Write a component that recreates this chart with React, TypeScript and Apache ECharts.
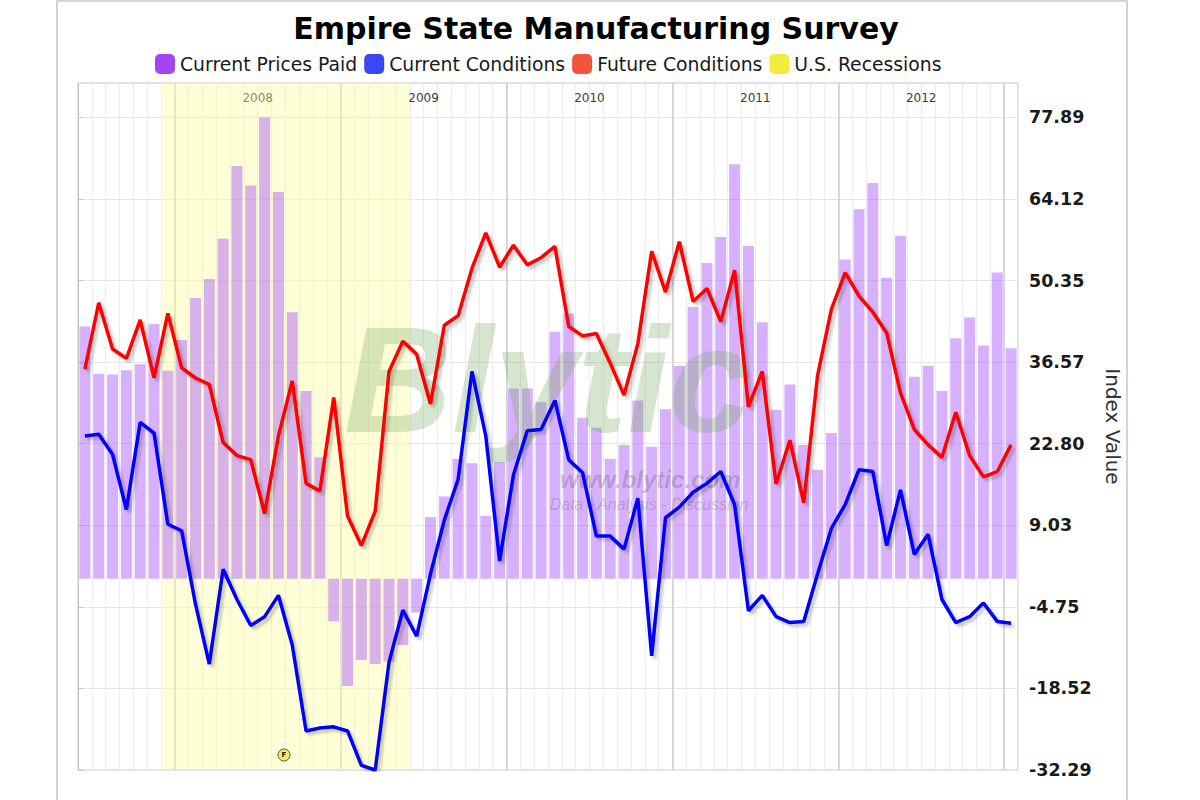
import React, { useEffect, useRef } from "react";
import * as echarts from "echarts";

// ---------- data ----------
const firstMonth = { year: 2007, month: 6 };
const lastMonth = { year: 2013, month: 1 };
const months: string[] = [];
for (let y = firstMonth.year, m = firstMonth.month; y < lastMonth.year || (y === lastMonth.year && m <= lastMonth.month); ) {
  months.push(`${y}-${String(m).padStart(2, "0")}`);
  m++;
  if (m > 12) { m = 1; y++; }
}

const pricesPaid = [
  42.6, 34.6, 34.5, 35.2, 36.2, 43.0, 35.1, 40.3, 47.4, 50.6,
  57.4, 69.7, 66.4, 77.89, 65.3, 45.0, 31.7, 20.5, -7.2, -18.1,
  -13.7, -14.4, -14.0, -11.2, -5.7, 10.4, 13.9, 20.2, 19.5, 10.6,
  19.7, 32.1, 32.1, 29.8, 41.7, 44.8, 27.2, 25.5, 20.2, 22.6,
  30.1, 22.3, 28.6, 35.9, 45.9, 53.3, 57.7, 70.0, 56.2, 43.3,
  28.5, 32.8, 22.6, 18.4, 24.6, 53.9, 62.4, 66.8, 50.8, 57.9,
  34.1, 35.9, 31.7, 40.6, 44.1, 39.4, 51.7, 38.9,
];

const currentConditions = [
  24.1, 24.4, 21.0, 11.7, 26.4, 24.6, 9.2, 8.1, -4.3, -14.4,
  1.6, -3.5, -7.9, -6.4, -2.8, -11.2, -25.7, -25.2, -25.0, -25.7,
  -31.5, -32.29, -14.1, -5.3, -9.7, 0.8, 9.9, 16.8, 35.0, 24.1,
  3.0, 17.5, 25.0, 25.2, 30.1, 20.1, 17.9, 7.2, 7.2, 5.0,
  13.6, -13.0, 10.3, 12.1, 14.6, 16.1, 18.1, 12.5, -5.4, -2.8,
  -6.4, -7.4, -7.2, 0.8, 8.5, 12.5, 18.4, 18.1, 5.6, 15.0,
  4.1, 7.5, -3.5, -7.4, -6.4, -4.1, -7.2, -7.5,
];

const futureConditions = [
  35.4, 46.6, 38.8, 37.2, 43.7, 33.9, 44.8, 35.6, 33.9, 32.8,
  23.0, 20.8, 20.1, 11.0, 24.1, 33.4, 16.1, 14.8, 30.6, 10.6,
  5.6, 11.4, 35.0, 40.1, 37.9, 29.5, 42.8, 44.4, 52.4, 58.4,
  52.6, 56.3, 53.0, 54.2, 56.1, 42.6, 41.0, 41.4, 36.4, 31.0,
  39.7, 55.3, 48.4, 56.9, 46.8, 49.0, 43.4, 52.1, 29.0, 35.0,
  16.0, 23.4, 12.8, 34.3, 45.5, 51.7, 47.7, 45.0, 41.5, 31.4,
  25.2, 22.6, 20.5, 28.1, 20.8, 17.2, 18.1, 22.6,
];

const yTickValues = [-32.29, -18.52, -4.75, 9.03, 22.8, 36.57, 50.35, 64.12, 77.89];
const yMin = -32.29;
const yMax = 83.7;

const yearLabels = ["2008", "2009", "2010", "2011", "2012"];
const yearBoundaryYears = ["2008", "2009", "2010", "2011", "2012", "2013"];
const recessionStart = "2007-12";
const recessionEnd = "2009-05";

const seriesNames = ["Current Prices Paid", "Current Conditions", "Future Conditions", "U.S. Recessions"];
const legendColors = ["#a444f2", "#3a48f2", "#f2553a", "#f4ec3c"];

// ---------- derived ----------
const yearLabelPos = yearLabels.map((y) => months.indexOf(`${y}-01`) + 6);
const yearBoundaryPos = yearBoundaryYears.map((y) => months.indexOf(`${y}-01`));
const recStartIdx = months.indexOf(recessionStart);
const recEndIdx = months.indexOf(recessionEnd) + 1;

const FONT = "DejaVu Sans";

const lineShadow = {
  shadowColor: "rgba(0,0,0,0.22)",
  shadowBlur: 3,
  shadowOffsetX: 3,
  shadowOffsetY: 3,
};

export default function App() {
  const ref = useRef<HTMLDivElement>(null);

  useEffect(() => {
    document.body.style.margin = "0";
    const chart = echarts.init(ref.current!, undefined, { renderer: "svg" });
    const option: any = {
      animation: false,
      backgroundColor: "#ffffff",
      textStyle: { fontFamily: FONT },
      title: {
        text: "Empire State Manufacturing Survey",
        left: 591,
        top: 8,
        textAlign: "center",
        textStyle: { fontFamily: FONT, fontSize: 30, fontWeight: "bold", color: "#000" },
      },
      legend: {
        left: 150,
        top: 49,
        icon: "roundRect",
        itemWidth: 20,
        itemHeight: 20,
        itemGap: 7,
        textStyle: { fontFamily: FONT, fontSize: 18.8, color: "#1a1a1a" },
        data: seriesNames.map((n, i) => ({ name: n, itemStyle: { color: legendColors[i] } })),
      },
      grid: {
        left: 78,
        right: 182,
        top: 83,
        bottom: 30,
        show: true,
        borderColor: "#c4c4c4",
        borderWidth: 1,
        containLabel: false,
      },
      xAxis: [
        {
          type: "category",
          data: months,
          boundaryGap: true,
          axisLine: { show: false },
          axisTick: { show: false, interval: 0 },
          axisLabel: { show: false, interval: 0 },
          splitLine: { show: true, interval: 0, lineStyle: { color: "#ececec", width: 1 } },
        },
        {
          type: "value",
          position: "top",
          min: 0,
          max: months.length,
          axisLine: { show: false },
          axisTick: { show: false, customValues: yearBoundaryPos },
          axisLabel: {
            show: true,
            inside: true,
            margin: 9,
            customValues: yearLabelPos,
            formatter: (v: number) => {
              const i = yearLabelPos.indexOf(Math.round(v));
              return i >= 0 ? yearLabels[i] : "";
            },
            fontFamily: FONT,
            fontSize: 12,
            color: "#3d3d30",
          },
          splitLine: { show: true, lineStyle: { color: "#cdcdcd", width: 1.5 } },
        },
      ],
      yAxis: {
        type: "value",
        position: "right",
        min: yMin,
        max: yMax,
        axisLine: { show: true, lineStyle: { color: "#c4c4c4" } },
        axisTick: { show: true, length: 5, customValues: yTickValues, lineStyle: { color: "#c4c4c4" } },
        axisLabel: {
          customValues: yTickValues,
          formatter: (v: number) => v.toFixed(2),
          margin: 11,
          fontFamily: FONT,
          fontSize: 17.5,
          fontWeight: "bold",
          color: "#1a1a1a",
        },
        splitLine: { show: true, lineStyle: { color: "#e6e6e6" } },
        name: "Index Value",
        nameLocation: "middle",
        nameRotate: -90,
        nameGap: 80,
        nameTextStyle: { fontFamily: FONT, fontSize: 20, color: "#333" },
      },
      graphic: [
        {
          type: "rect",
          z: 0,
          silent: true,
          shape: { x: 57, y: 1, width: 1070, height: 820 },
          style: { fill: "none", stroke: "#d4d4d4", lineWidth: 2 },
        },
        {
          type: "text",
          z: 5,
          silent: true,
          x: 548,
          y: 380,
          style: {
            text: "Blytic",
            font: "italic bold 150px 'Liberation Sans'",
            lineHeight: 110,
            fill: "rgba(120,170,95,0.30)",
            align: "center",
            verticalAlign: "middle",
          },
        },
        {
          type: "text",
          z: 5,
          silent: true,
          x: 650,
          y: 479,
          style: {
            text: "www.blytic.com",
            font: "italic bold 24px 'Liberation Sans'",
            lineHeight: 24,
            fill: "rgba(90,90,90,0.28)",
            align: "center",
            verticalAlign: "middle",
          },
        },
        {
          type: "text",
          z: 5,
          silent: true,
          x: 649,
          y: 504,
          style: {
            text: "Data - Analysis - Discussion",
            font: "italic 16px 'Liberation Sans'",
            lineHeight: 16,
            fill: "rgba(90,90,90,0.28)",
            align: "center",
            verticalAlign: "middle",
          },
        },
        {
          type: "circle",
          z: 20,
          silent: true,
          shape: { cx: 284, cy: 755, r: 6 },
          style: { fill: "#f2ee60", stroke: "#555", lineWidth: 1 },
        },
        {
          type: "text",
          z: 21,
          silent: true,
          x: 284,
          y: 755,
          style: { text: "F", font: "bold 7px 'DejaVu Sans'", fill: "#222", align: "center", verticalAlign: "middle" },
        },
      ],
      series: [
        {
          name: seriesNames[0],
          type: "bar",
          xAxisIndex: 0,
          yAxisIndex: 0,
          data: pricesPaid,
          barWidth: 11,
          z: 2,
          itemStyle: { color: "rgba(160,70,255,0.42)" },
        },
        {
          name: seriesNames[1],
          type: "line",
          xAxisIndex: 0,
          yAxisIndex: 0,
          data: currentConditions,
          showSymbol: false,
          symbol: "none",
          z: 10,
          itemStyle: { color: "#0000ff" },
          lineStyle: { color: "#0000ff", width: 3.5, ...lineShadow },
        },
        {
          name: seriesNames[2],
          type: "line",
          xAxisIndex: 0,
          yAxisIndex: 0,
          data: futureConditions,
          showSymbol: false,
          symbol: "none",
          z: 10,
          itemStyle: { color: "#ff0000" },
          lineStyle: { color: "#ff0000", width: 3.5, ...lineShadow },
        },
        {
          name: seriesNames[3],
          type: "line",
          xAxisIndex: 1,
          yAxisIndex: 0,
          data: [],
          z: 1,
          itemStyle: { color: legendColors[3] },
          markArea: {
            silent: true,
            z: 1,
            itemStyle: { color: "rgba(255,255,160,0.42)" },
            data: [[{ xAxis: recStartIdx }, { xAxis: recEndIdx }]],
          },
        },
      ],
    };
    chart.setOption(option);
    return () => chart.dispose();
  }, []);

  return (
    <div
      ref={ref}
      style={{ position: "fixed", left: 0, top: 0, width: 1200, height: 800 }}
    />
  );
}
